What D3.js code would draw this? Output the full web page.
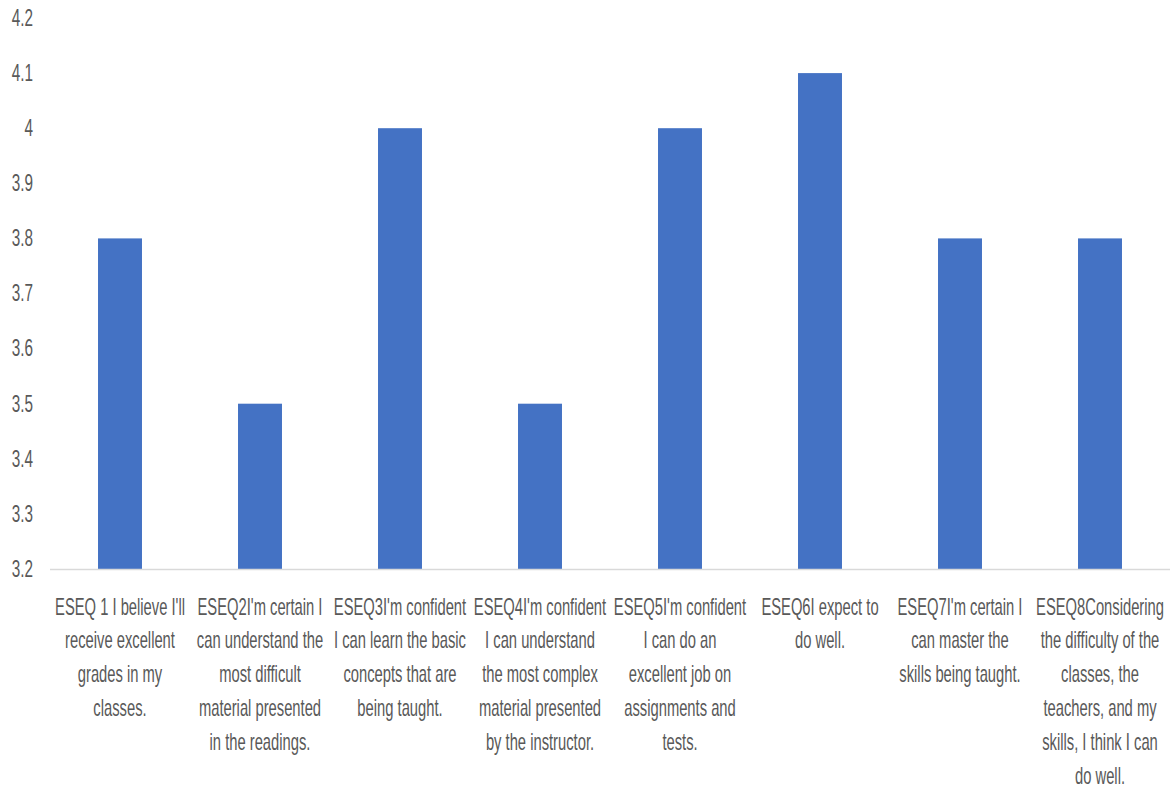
<!DOCTYPE html>
<html>
<head>
<meta charset="utf-8">
<script src="https://cdn.jsdelivr.net/npm/d3@7"></script>
<style>
  html, body { margin: 0; padding: 0; background: #ffffff; }
  svg { display: block; }
</style>
</head>
<body>
<svg id="chart" width="1173" height="787"></svg>
<script>
const categories = ["ESEQ1", "ESEQ2", "ESEQ3", "ESEQ4", "ESEQ5", "ESEQ6", "ESEQ7", "ESEQ8"];
const values = [3.8, 3.5, 4.0, 3.5, 4.0, 4.1, 3.8, 3.8];
const labelLines = [
  ["ESEQ 1 I believe I'll", "receive excellent", "grades in my", "classes."],
  ["ESEQ2I'm certain I", "can understand the", "most difficult", "material presented", "in the readings."],
  ["ESEQ3I'm confident", "I can learn the basic", "concepts that are", "being taught."],
  ["ESEQ4I'm confident", "I can understand", "the most complex", "material presented", "by the instructor."],
  ["ESEQ5I'm confident", "I can do an", "excellent job on", "assignments and", "tests."],
  ["ESEQ6I expect to", "do well."],
  ["ESEQ7I'm certain I", "can master the", "skills being taught."],
  ["ESEQ8Considering", "the difficulty of the", "classes, the", "teachers, and my", "skills, I think I can", "do well."]
];
const yTicks = [3.2, 3.3, 3.4, 3.5, 3.6, 3.7, 3.8, 3.9, 4.0, 4.1, 4.2];
const yTickLabels = ["3.2", "3.3", "3.4", "3.5", "3.6", "3.7", "3.8", "3.9", "4", "4.1", "4.2"];

const svg = d3.select("#chart");
const FONT = "'Liberation Sans', Arial, sans-serif";
const SX = 0.82, SY = 1.3;
const textColor = "#595959";

const x = d3.scaleBand()
  .domain(categories)
  .range([50, 1170])
  .paddingInner(0.686)
  .paddingOuter(0.343);

const y = d3.scaleLinear()
  .domain([3.2, 4.2])
  .range([569, 18]);

// bars
svg.append("g")
  .selectAll("rect")
  .data(categories)
  .join("rect")
  .attr("x", d => x(d))
  .attr("width", x.bandwidth())
  .attr("y", (d, i) => y(values[i]))
  .attr("height", (d, i) => y(3.2) - y(values[i]))
  .attr("fill", "#4472C4");

// x axis line
svg.append("line")
  .attr("x1", x.range()[0])
  .attr("x2", x.range()[1])
  .attr("y1", y(3.2) + 0.5)
  .attr("y2", y(3.2) + 0.5)
  .attr("stroke", "#d9d9d9")
  .attr("stroke-width", 1.5);

// y tick labels
svg.append("g")
  .selectAll("text")
  .data(yTicks)
  .join("text")
  .attr("transform", d => `translate(33,${y(d) + 7.8}) scale(${SX + 0.03},${SY})`)
  .attr("text-anchor", "end")
  .attr("font-family", FONT)
  .attr("font-size", 18)
  .attr("fill", textColor)
  .text((d, i) => yTickLabels[i]);

// x category labels
const lg = svg.append("g");
categories.forEach((c, i) => {
  const cx = x(c) + x.bandwidth() / 2;
  labelLines[i].forEach((line, j) => {
    lg.append("text")
      .attr("transform", `translate(${cx},${614.5 + j * 33.8}) scale(${SX},${SY})`)
      .attr("text-anchor", "middle")
      .attr("font-family", FONT)
      .attr("font-size", 18)
      .attr("fill", textColor)
      .text(line);
  });
});
</script>
</body>
</html>
